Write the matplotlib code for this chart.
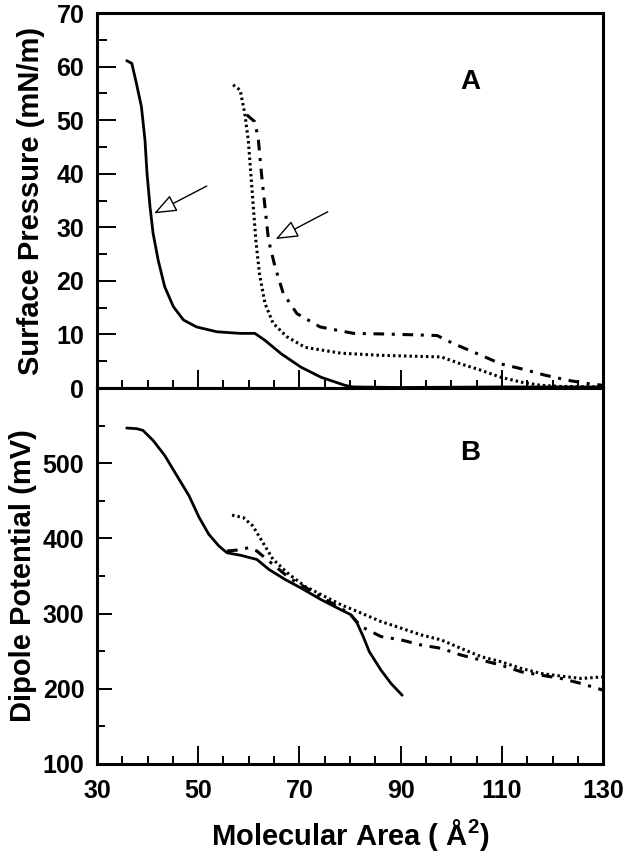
import matplotlib
matplotlib.use("Agg")
import matplotlib.pyplot as plt
from matplotlib.ticker import MultipleLocator

plt.rcParams['font.family'] = ['Liberation Sans', 'DejaVu Sans']
plt.rcParams['font.weight'] = 'bold'
plt.rcParams['mathtext.fontset'] = 'custom'
plt.rcParams['mathtext.rm'] = 'Liberation Sans:bold'
plt.rcParams['mathtext.bf'] = 'Liberation Sans:bold'

# ---- Panel A: surface pressure isotherms ----
a_solid_x = [35.9, 36.9, 37.8, 38.8, 39.5, 39.9, 40.5, 41.1, 42.1, 43.4, 45.1, 47.1, 49.7, 53.7, 58.3, 61.2, 63.2, 66.4, 70.3, 74.3, 79.0, 80.6, 90.0, 110.0, 130.0]
a_solid_y = [61.1, 60.6, 56.9, 52.5, 46.3, 40.1, 33.8, 28.9, 23.9, 18.9, 15.2, 12.7, 11.4, 10.5, 10.2, 10.2, 8.9, 6.4, 3.9, 2.0, 0.5, 0.2, 0.1, 0.2, 0.2]

a_dot_x = [56.9, 58.3, 59.2, 59.9, 60.4, 60.9, 61.4, 62.1, 63.2, 64.8, 67.5, 71.1, 78.2, 86.1, 94.0, 98.0, 101.9, 105.9, 109.8, 113.8, 117.7, 121.7, 130.0]
a_dot_y = [56.6, 55.6, 51.3, 46.3, 40.1, 33.8, 27.6, 21.4, 15.8, 12.1, 9.6, 7.6, 6.5, 6.1, 5.9, 5.8, 4.5, 3.3, 2.0, 1.1, 0.5, 0.3, 0.2]

a_dd_x = [59.6, 61.2, 61.9, 62.5, 63.2, 63.9, 65.2, 66.8, 69.5, 74.1, 80.7, 86.1, 93.8, 97.2, 100.4, 105.9, 109.8, 113.8, 118.5, 123.3, 127.2, 130.0]
a_dd_y = [51.0, 49.7, 46.3, 40.1, 33.8, 27.6, 22.6, 17.7, 13.9, 11.4, 10.2, 10.1, 9.9, 9.8, 8.3, 6.1, 4.5, 3.6, 2.4, 1.4, 0.8, 0.5]

# ---- Panel B: dipole potential ----
b_solid_x = [35.9, 37.9, 39.1, 41.1, 43.4, 45.8, 48.2, 50.2, 52.1, 54.1, 55.7, 58.5, 61.6, 64.0, 67.2, 70.3, 74.3, 78.2, 80.2, 81.4, 82.6, 83.8, 86.1, 88.1, 90.3]
b_solid_y = [546.8, 545.9, 543.7, 530.3, 510.3, 483.5, 456.7, 427.8, 405.5, 389.9, 380.9, 377.4, 372.0, 358.6, 345.3, 334.1, 318.5, 305.1, 298.4, 287.3, 269.5, 249.4, 224.9, 207.0, 191.4]

b_dot_x = [56.7, 58.9, 60.8, 62.8, 64.8, 68.0, 71.1, 74.3, 78.2, 82.2, 86.1, 90.1, 94.0, 98.0, 101.9, 105.9, 109.8, 113.8, 117.7, 121.7, 125.7, 130.0]
b_dot_y = [430.9, 427.8, 416.6, 394.3, 372.0, 352.0, 336.3, 325.2, 311.8, 300.7, 289.5, 280.6, 271.7, 265.0, 253.8, 242.7, 236.0, 227.1, 220.4, 216.8, 213.7, 215.9]

b_dd_x = [55.7, 57.7, 60.0, 61.6, 64.8, 68.0, 71.9, 75.8, 79.8, 82.2, 86.1, 90.1, 94.0, 98.0, 101.9, 105.9, 109.8, 113.8, 117.7, 121.7, 125.7, 130.0]
b_dd_y = [383.2, 384.5, 387.6, 383.2, 365.3, 347.5, 331.9, 316.3, 300.7, 282.8, 269.5, 265.0, 258.3, 253.8, 244.9, 238.2, 231.5, 222.6, 218.2, 213.7, 207.0, 198.1]

x_ticks = [30, 50, 70, 90, 110, 130]
a_yticks = [0, 10, 20, 30, 40, 50, 60, 70]
b_yticks = [100, 200, 300, 400, 500]

fig = plt.figure(figsize=(6.29, 8.56), dpi=100)
L, W = 0.154, 0.805
axA = fig.add_axes([L, 0.5467, W, 0.4381])
axB = fig.add_axes([L, 0.1075, W, 0.4392])

solid_kw = dict(color='black', lw=2.0, ls='-', solid_capstyle='round', solid_joinstyle='round')
dot_kw = dict(color='black', lw=2.2, ls=(0, (0.8, 1.0)))
dd_kw = dict(color='black', lw=2.2, ls=(0, (3.5, 2.5, 1.0, 2.5)))

axA.plot(a_solid_x, a_solid_y, **solid_kw)
axA.plot(a_dot_x, a_dot_y, **dot_kw)
axA.plot(a_dd_x, a_dd_y, **dd_kw)

axB.plot(b_solid_x, b_solid_y, **solid_kw)
axB.plot(b_dot_x, b_dot_y, **dot_kw)
axB.plot(b_dd_x, b_dd_y, **dd_kw)

for ax in (axA, axB):
    ax.set_xlim(30, 130)
    for s in ax.spines.values():
        s.set_linewidth(2.2)
    ax.xaxis.set_minor_locator(MultipleLocator(5))
    ax.set_xticks(x_ticks)
    ax.tick_params(axis='both', which='major', direction='in', width=1.4, labelsize=18, pad=9)
    ax.tick_params(axis='both', which='minor', direction='in', width=1.4)
    ax.tick_params(axis='x', which='major', length=13)
    ax.tick_params(axis='x', which='minor', length=6)

axA.set_ylim(0, 70)
axA.set_yticks(a_yticks)
axA.yaxis.set_minor_locator(MultipleLocator(5))
axA.tick_params(axis='y', which='major', length=14)
axA.tick_params(axis='y', which='minor', length=7)
axA.tick_params(axis='x', labelbottom=False)

axB.set_ylim(100, 600)
axB.set_yticks(b_yticks)
axB.yaxis.set_minor_locator(MultipleLocator(50))
axB.tick_params(axis='y', which='major', length=11)
axB.tick_params(axis='y', which='minor', length=6)
axB.tick_params(axis='x', which='major', pad=11)

axA.set_ylabel('Surface Pressure (mN/m)', fontsize=21, fontweight='bold', labelpad=8)
axB.set_ylabel('Dipole Potential (mV)', fontsize=21, fontweight='bold', labelpad=4)
axB.set_xlabel('Molecular Area ( Å$^{2}$)', fontsize=21, fontweight='bold', labelpad=10)
fig.align_ylabels([axA, axB])

axA.text(103.7, 57.1, 'A', fontsize=20, fontweight='bold', ha='center', va='center')
axB.text(103.7, 513, 'B', fontsize=20, fontweight='bold', ha='center', va='center')

arrow_kw = dict(arrowstyle='-|>,head_length=1.4,head_width=0.55', fc='white', ec='black', lw=1.0, shrinkA=0, shrinkB=0)
axA.annotate('', xy=(41.3, 32.6), xytext=(51.7, 37.7), arrowprops=arrow_kw)
axA.annotate('', xy=(65.3, 27.8), xytext=(75.6, 32.9), arrowprops=arrow_kw)

fig.savefig('out.png', dpi=100)
